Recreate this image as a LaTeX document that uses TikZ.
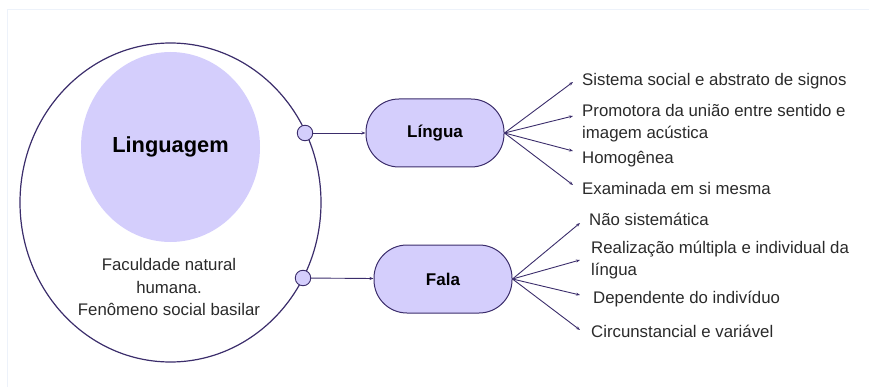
\documentclass[tikz,border=0pt]{standalone}
\usepackage{fontspec}
\setmainfont{Liberation Sans}
\usetikzlibrary{arrows.meta}
\definecolor{lav}{HTML}{D4CEFC}
\definecolor{ink}{HTML}{3B2D6B}
\definecolor{frame}{HTML}{EDF2FA}
\definecolor{txt}{HTML}{2A2A2A}
\tikzset{
  pill/.style={draw=ink, fill=lav, line width=1pt, rounded corners=33pt,
    minimum width=138pt, minimum height=68pt, inner sep=0pt,
    font=\fontsize{17}{20}\selectfont\bfseries, text=black},
  dot/.style={circle, draw=ink, fill=lav, line width=0.9pt, minimum size=15.5pt, inner sep=0pt},
  link/.style={draw=ink, line width=0.9pt, -{Stealth[length=4pt,width=3pt]}},
  item/.style={anchor=west, align=left, inner sep=0pt, text=txt,
    font=\fontsize{16.8}{22}\selectfont},
}
\begin{document}
\begin{tikzpicture}[x=1pt, y=-1pt]
\useasboundingbox (0,0) rectangle (869,387);
% faint page frame
\draw[frame, line width=1pt] (7,387) -- (7,10) -- (869,10);

% central concept
\draw[ink, line width=1.2pt] (170.5,202.5) ellipse [x radius=150.5, y radius=159.5];
\fill[lav] (170.5,147) ellipse [x radius=89.5, y radius=95];
\node (ling) at (170.5,147) {\fontsize{21.8}{26}\selectfont\bfseries Linguagem};
\node[align=center, text=txt, font=\fontsize{16.8}{22.5}\selectfont] (desc) at (169,287)
  {Faculdade natural\\humana.\\Fenômeno social basilar};

% ports on the circle
\node[dot] (p1) at (305,133) {};
\node[dot] (p2) at (303,278) {};

% branches
\node[pill] (lingua) at (435,133) {Língua};
\node[pill] (fala) at (443,279) {Fala};
\draw[link] (p1) -- (lingua);
\draw[link] (p2) -- (fala);

% Língua items
\coordinate (a1) at (573,82);
\coordinate (a2) at (573,116);
\coordinate (a3) at (573,151);
\coordinate (a4) at (573,185);
\node[item] (t1) at (582,81) {Sistema social e abstrato de signos};
\node[item] (t2) at (582,123) {Promotora da união entre sentido e\\imagem acústica};
\node[item] (t3) at (582,159) {Homogênea};
\node[item] (t4) at (582,188) {Examinada em si mesma};
\foreach \c in {a1,a2,a3,a4} \draw[link] (lingua.east) -- (\c);

% Fala items
\coordinate (b1) at (580,223);
\coordinate (b2) at (580,260);
\coordinate (b3) at (580,295);
\coordinate (b4) at (580,330);
\node[item] (u1) at (589,219) {Não sistemática};
\node[item] (u2) at (591,260) {Realização múltipla e individual da\\língua};
\node[item] (u3) at (593,299) {Dependente do indivíduo};
\node[item] (u4) at (591,331) {Circunstancial e variável};
\foreach \c in {b1,b2,b3,b4} \draw[link] (fala.east) -- (\c);
\end{tikzpicture}
\end{document}
